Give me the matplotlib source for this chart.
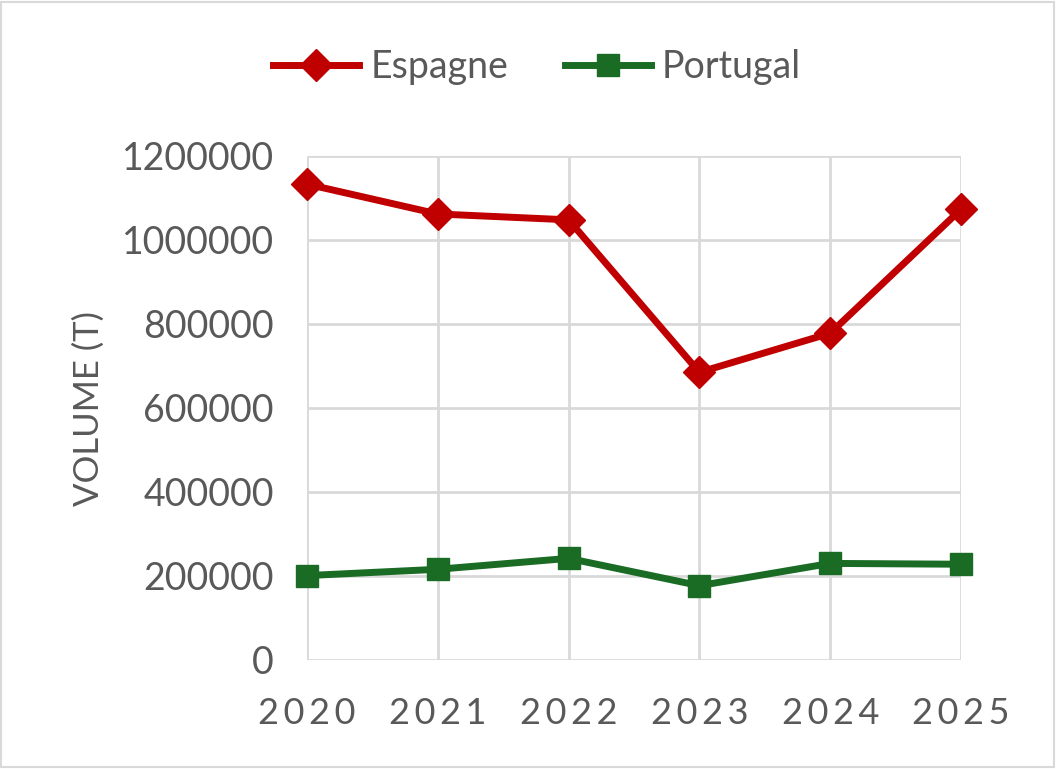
import matplotlib.pyplot as plt
from matplotlib.patches import Rectangle

years = ['2020', '2021', '2022', '2023', '2024', '2025']
espagne = [1133000, 1062000, 1048000, 685000, 778000, 1073000]
portugal = [201000, 216000, 242000, 177000, 230000, 228000]
yticks = [0, 200000, 400000, 600000, 800000, 1000000, 1200000]

plt.rcParams['font.family'] = ['Lato', 'DejaVu Sans']
grey = '#595959'
gridc = '#d9d9d9'

fig = plt.figure(figsize=(10.56, 7.69), dpi=100)
ax = fig.add_axes([307 / 1056, 1 - 660 / 769, (961 - 307) / 1056, (660 - 156) / 769])

x = range(len(years))
ax.plot(x, espagne, color='#c00000', lw=5, marker='D', ms=16, label='Espagne', clip_on=False, zorder=3)
ax.plot(x, portugal, color='#1a6b24', lw=5, marker='s', ms=16.5, label='Portugal', clip_on=False, zorder=3)

ax.set_xlim(0, len(years) - 1)
ax.set_ylim(0, 1200000)
ax.set_yticks(yticks)
ax.set_yticklabels([str(v) for v in yticks])
ax.set_xticks(list(x))
ax.set_xticklabels(['\u2009'.join(y) for y in years])
ax.grid(True, color=gridc, lw=2)
ax.set_axisbelow(True)
for s in ax.spines.values():
    s.set_visible(False)
ax.tick_params(length=0, colors=grey)
ax.tick_params(axis='y', pad=24, labelsize=27)
ax.tick_params(axis='x', pad=27, labelsize=26)
ax.set_ylabel('VOLUME (T)', fontsize=25, color=grey, labelpad=12)

leg = ax.legend(loc='center', bbox_to_anchor=(537 / 1056, 1 - 67 / 769), bbox_transform=fig.transFigure,
                ncol=2, frameon=False, fontsize=27, handlelength=2.3, columnspacing=1.5, handletextpad=0.3)
for t in leg.get_texts():
    t.set_color(grey)

fig.patches.append(Rectangle((0.001, 0.002), 0.997, 0.995, transform=fig.transFigure,
                             fill=False, edgecolor=gridc, lw=1.5))
fig.savefig('out.png', dpi=100)
